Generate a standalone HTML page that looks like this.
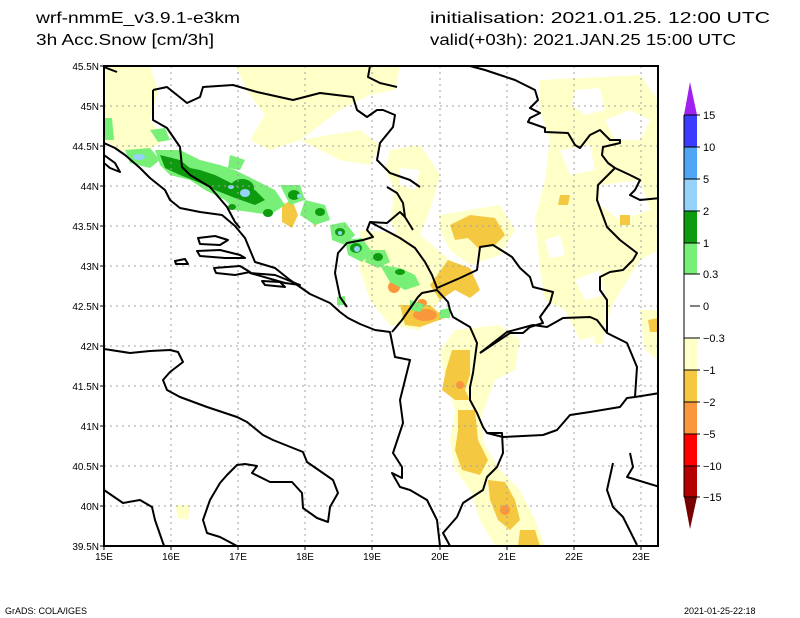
<!DOCTYPE html>
<html><head><meta charset="utf-8"><style>
html,body{margin:0;padding:0;background:#fff;}
svg{display:block;}
text{font-family:"Liberation Sans",sans-serif;fill:#000;}
</style></head><body>
<svg width="800" height="618" viewBox="0 0 800 618" xmlns="http://www.w3.org/2000/svg">
<rect width="800" height="618" fill="#fff"/>
<text x="36" y="23" font-size="16" textLength="204" lengthAdjust="spacingAndGlyphs">wrf-nmmE_v3.9.1-e3km</text>
<text x="36" y="45" font-size="16" textLength="178" lengthAdjust="spacingAndGlyphs">3h Acc.Snow [cm/3h]</text>
<text x="430" y="23" font-size="16" textLength="340" lengthAdjust="spacingAndGlyphs">initialisation: 2021.01.25.  12:00 UTC</text>
<text x="430" y="45" font-size="16" textLength="306" lengthAdjust="spacingAndGlyphs">valid(+03h): 2021.JAN.25 15:00 UTC</text>

<clipPath id="c"><rect x="104" y="66" width="554" height="480"/></clipPath>
<g clip-path="url(#c)">
<g fill="#ffffc8">
<path d="M104,66 L150,66 L158,90 L150,120 L165,140 L140,155 L120,150 L104,140Z"/>
<path d="M235,66 L400,66 L395,90 L370,95 L340,110 L320,125 L300,140 L270,150 L250,140 L265,115 L250,95Z"/>
<path d="M300,140 L360,130 L380,145 L370,165 L340,160 L320,150Z"/>
<path d="M390,150 L420,145 L440,175 L430,210 L420,235 L400,240 L390,220 L395,190 L385,170Z"/>
<path d="M440,215 L500,205 L515,230 L500,255 L470,265 L450,250 L440,230Z"/>
<path d="M360,230 L420,235 L450,260 L440,300 L420,330 L390,325 L370,300 L360,270Z"/>
<path d="M540,80 L640,75 L658,100 L658,250 L640,260 L615,300 L600,335 L580,340 L565,310 L545,300 L540,270 L535,220 L545,180 L550,140 L540,110Z"/>
<path d="M640,310 L658,310 L658,360 L645,350Z"/>
<path d="M455,330 L500,325 L520,340 L515,370 L495,380 L480,420 L485,445 L500,470 L520,490 L535,520 L545,546 L495,546 L480,520 L470,490 L455,470 L450,440 L455,410 L445,380 L440,350Z"/>
<path d="M595,330 L605,330 L602,345 L594,343Z"/>
<path d="M175,505 L190,505 L188,520 L178,518Z"/>
</g>
<!-- holes in right yellow region -->
<g fill="#fff">
<path d="M575,90 L600,88 L605,110 L585,115 L572,105Z"/>
<path d="M605,120 L630,110 L650,120 L640,140 L615,140Z"/>
<path d="M560,150 L590,145 L595,170 L570,175Z"/>
<path d="M545,240 L560,235 L565,255 L550,258Z"/>
<path d="M575,280 L600,270 L605,295 L585,300Z"/>
<path d="M600,185 L640,180 L650,210 L620,220 L600,205Z"/>
<path d="M400,168 L420,170 L415,190 L400,185Z"/>
</g>
<g fill="#f5c841">
<path d="M450,225 L470,215 L495,218 L505,235 L495,245 L478,248 L468,238 L455,240Z"/>
<path d="M448,260 L470,268 L480,290 L470,298 L455,290 L440,300 L430,285Z"/>
<path d="M400,305 L430,305 L445,318 L420,327 L405,325Z"/>
<path d="M452,350 L470,350 L470,375 L465,390 L470,400 L455,400 L442,390 L446,370Z"/>
<path d="M458,410 L475,410 L478,440 L488,460 L480,475 L462,470 L455,450 L458,430Z"/>
<path d="M488,480 L505,482 L515,500 L520,520 L510,530 L498,520 L490,500Z"/>
<path d="M520,530 L535,530 L540,546 L518,546Z"/>
<path d="M282,205 L292,200 L298,215 L292,228 L282,222Z"/>
<path d="M310,215 L318,213 L322,222 L314,226Z"/>
<path d="M560,195 L570,195 L568,205 L558,205Z"/>
<path d="M620,215 L630,215 L630,225 L620,225Z"/>
<path d="M648,320 L658,318 L658,332 L650,332Z"/>
</g>
<g fill="#fa963c">
<ellipse cx="394" cy="287" rx="6" ry="6"/>
<ellipse cx="425" cy="315" rx="12" ry="6"/>
<ellipse cx="460" cy="385" rx="4" ry="4"/>
<ellipse cx="505" cy="510" rx="5" ry="5"/>
<ellipse cx="422" cy="303" rx="5" ry="4"/>
</g>
<g fill="#78f078">
<path d="M104,118 L112,118 L114,140 L104,140Z"/>
<path d="M125,150 L150,148 L160,160 L150,168 L130,163Z"/>
<path d="M155,150 L180,150 L200,160 L220,165 L235,170 L255,180 L275,190 L285,205 L270,215 L250,212 L235,210 L225,200 L205,190 L190,180 L170,175 L160,165Z"/>
<path d="M230,155 L245,160 L240,170 L228,168Z"/>
<path d="M280,185 L300,185 L305,200 L290,205Z"/>
<path d="M305,200 L325,205 L330,220 L315,225 L300,215Z"/>
<path d="M330,225 L345,222 L355,235 L345,245 L332,240Z"/>
<path d="M345,240 L362,238 L372,252 L362,262 L348,255Z"/>
<path d="M368,250 L385,250 L390,262 L378,268 L365,262Z"/>
<path d="M380,265 L400,268 L415,275 L420,285 L405,290 L390,282Z"/>
<path d="M410,300 L425,305 L420,312 L410,310Z"/>
<path d="M337,297 L345,296 L345,305 L337,305Z"/>
<path d="M440,310 L450,308 L450,318 L440,318Z"/>
<path d="M150,130 L165,128 L170,140 L158,142Z"/>
</g>
<g fill="#0f9b0f">
<path d="M160,155 L180,160 L190,168 L200,170 L215,175 L235,185 L255,190 L265,200 L255,205 L235,198 L215,190 L200,183 L180,175 L165,168Z"/>
<ellipse cx="242" cy="188" rx="12" ry="9"/>
<ellipse cx="294" cy="195" rx="6" ry="5"/>
<ellipse cx="320" cy="212" rx="5" ry="4"/>
<ellipse cx="340" cy="232" rx="5" ry="4"/>
<ellipse cx="356" cy="248" rx="6" ry="5"/>
<ellipse cx="378" cy="257" rx="5" ry="4"/>
<ellipse cx="400" cy="272" rx="5" ry="3"/>
<ellipse cx="268" cy="213" rx="5" ry="4"/>
<ellipse cx="232" cy="207" rx="4" ry="3"/>
</g>
<g fill="#96d2fa">
<ellipse cx="139" cy="157" rx="6" ry="3"/>
<ellipse cx="245" cy="193" rx="5" ry="4"/>
<ellipse cx="231" cy="187" rx="3" ry="2"/>
<ellipse cx="299" cy="196" rx="2" ry="2"/>
<ellipse cx="357" cy="249" rx="3" ry="3"/>
<ellipse cx="340" cy="233" rx="2" ry="2"/>
</g>
</g>

<g stroke="#a0a0a0" stroke-width="1" stroke-dasharray="2,4">
<path d="M171,66V546M238,66V546M305,66V546M372,66V546M440,66V546M507,66V546M574,66V546M641,66V546"/>
<path d="M104,106H658M104,146H658M104,186H658M104,226H658M104,266H658M104,306H658M104,346H658M104,386H658M104,426H658M104,466H658M104,506H658"/>
</g>

<g clip-path="url(#c)" fill="none" stroke="#000" stroke-width="2" stroke-linejoin="round">
<path d="M104,143 L115,148 L125,155 L140,168 L150,178 L165,190 L170,200 L180,208 L200,212 L222,215 L235,226 L245,238 L255,262 L275,268 L290,280 L310,294 L330,303 L340,312 L348,318 L360,324 L375,330 L390,332 L395,357 L410,360 L405,380 L400,400 L403,423 L393,453 L402,467 L402,478 L392,473 L400,487 L410,490 L427,500 L437,520 L440,546"/>
<path d="M104,155 L115,163 L120,172 L110,168 L104,163Z"/>
<path d="M198,238 L215,236 L228,240 L220,245 L200,244Z"/>
<path d="M197,251 L220,250 L240,255 L245,258 L225,258 L200,256Z"/>
<path d="M175,261 L185,259 L188,264 L176,264Z"/>
<path d="M214,268 L240,266 L250,272 L235,275 L216,273Z"/>
<path d="M262,281 L280,282 L285,287 L265,285Z"/>
<path d="M250,273 L275,275 L300,285 L285,283Z"/>
<path d="M104,349 L130,353 L150,351 L170,350 L178,352 L183,362 L170,372 L163,380 L167,390 L180,397 L207,407 L237,417 L247,422 L263,435 L273,440 L303,452 L307,462 L333,480 L338,493 L330,507 L328,522 L317,518 L303,508 L302,493 L292,482 L270,482 L252,473 L257,466 L245,464 L237,465 L227,475 L220,483 L210,500 L203,520 L207,533 L220,537 L237,546"/>
<path d="M104,490 L123,503 L140,500 L152,507 L155,520 L163,543 L165,548"/>
<path d="M104,67 L117,72"/>
<path d="M153,90 L167,87 L187,103 L200,97 L203,87 L233,85 L257,92 L293,100 L320,93 L353,97 L357,110 L367,117 L377,110 L383,110 L395,115 L393,127 L380,143 L377,160 L390,173 L410,180 L420,187"/>
<path d="M370,66 L368,77 L380,83 L397,87"/>
<path d="M153,90 L153,120 L167,128 L180,147 L182,167 L190,175 L210,187 L227,207 L235,222 L240,228"/>
<path d="M387,187 L397,193 L403,203 L405,217 L400,212 L387,223 L370,222 L367,230 L373,237 L363,240 L347,243 L338,253 L335,273 L340,297 L347,307"/>
<path d="M413,230 L405,217"/>
<path d="M370,222 L385,230 L400,238 L415,248 L425,262 L432,275 L437,288 L460,278 L477,270 L480,247 L493,245 L512,257 L520,268 L530,277 L533,287 L553,292 L550,303 L540,317 L543,323 L530,327 L523,333 L510,333 L480,353"/>
<path d="M392,332 L402,320 L418,297 L422,293 L437,290 L448,302 L450,310 L453,317 L470,327 L477,343 L473,373 L470,387 L470,400 L477,413 L483,427 L487,433 L502,433 L503,453 L497,467 L487,477 L483,490 L463,503 L457,517 L443,533 L450,546"/>
<path d="M480,353 L507,332 L533,325 L547,327 L563,318 L590,317 L597,320 L607,333 L627,343 L637,367 L635,397 L627,398 L620,407 L590,412 L570,415 L557,430 L543,435 L503,437 L487,433"/>
<path d="M635,397 L660,393"/>
<path d="M607,333 L607,300 L600,290 L600,277 L610,272 L623,270 L633,260 L637,253 L620,240 L607,227 L597,200 L598,185 L615,168"/>
<path d="M500,75 L515,80 L535,90 L538,100 L530,108 L540,113 L530,118 L528,122 L545,128 L545,132 L568,133 L575,145 L580,148 L590,135 L600,130 L610,140 L620,140 L620,143 L603,147 L602,155 L608,163 L615,168 L630,175 L640,180 L635,190 L630,195 L640,200 L660,198"/>
<path d="M470,66 L485,70 L500,75"/>
<path d="M630,453 L633,467 L627,477 L660,487"/>
<path d="M613,463 L607,490 L613,507 L623,517 L637,545"/>
</g>

<rect x="104" y="66" width="554" height="480" fill="none" stroke="#000" stroke-width="2"/>
<g stroke="#000" stroke-width="1">
<path d="M100,66H104M100,106H104M100,146H104M100,186H104M100,226H104M100,266H104M100,306H104M100,346H104M100,386H104M100,426H104M100,466H104M100,506H104M100,546H104"/>
<path d="M104,546V550M171,546V550M238,546V550M305,546V550M372,546V550M440,546V550M507,546V550M574,546V550M641,546V550"/>
</g>
<g font-size="10" text-anchor="end">
<text x="99" y="70">45.5N</text><text x="99" y="110">45N</text><text x="99" y="150">44.5N</text>
<text x="99" y="190">44N</text><text x="99" y="230">43.5N</text><text x="99" y="270">43N</text>
<text x="99" y="310">42.5N</text><text x="99" y="350">42N</text><text x="99" y="390">41.5N</text>
<text x="99" y="430">41N</text><text x="99" y="470">40.5N</text><text x="99" y="510">40N</text>
<text x="99" y="550">39.5N</text>
</g>
<g font-size="10" text-anchor="middle">
<text x="104" y="560">15E</text><text x="171" y="560">16E</text><text x="238" y="560">17E</text>
<text x="305" y="560">18E</text><text x="372" y="560">19E</text><text x="440" y="560">20E</text>
<text x="507" y="560">21E</text><text x="574" y="560">22E</text><text x="641" y="560">23E</text>
</g>

<polygon points="690,82 684,115 697,115" fill="#a020f0"/>
<rect x="684" y="115" width="13" height="32" fill="#3c3cff"/>
<rect x="684" y="147" width="13" height="32" fill="#50a5f5"/>
<rect x="684" y="179" width="13" height="32" fill="#96d2fa"/>
<rect x="684" y="211" width="13" height="32" fill="#0f9b0f"/>
<rect x="684" y="243" width="13" height="31" fill="#78f078"/>
<rect x="684" y="274" width="13" height="64" fill="#fff"/>
<rect x="684" y="338" width="13" height="32" fill="#ffffc8"/>
<rect x="684" y="370" width="13" height="32" fill="#f5c841"/>
<rect x="684" y="402" width="13" height="32" fill="#fa963c"/>
<rect x="684" y="434" width="13" height="32" fill="#ff0000"/>
<rect x="684" y="466" width="13" height="31" fill="#b40000"/>
<polygon points="684,497 697,497 690,529" fill="#780000"/>
<g stroke="#000" stroke-width="1">
<path d="M684,115H700M684,147H700M684,179H700M684,211H700M684,243H700M684,274H700M690,306H700M684,338H700M684,370H700M684,402H700M684,434H700M684,466H700M684,497H700"/>
<path d="M684,115V497"/>
</g>
<g font-size="11">
<text x="703" y="119">15</text><text x="703" y="151">10</text><text x="703" y="183">5</text>
<text x="703" y="215">2</text><text x="703" y="247">1</text><text x="703" y="278">0.3</text>
<text x="703" y="310">0</text><text x="703" y="342">−0.3</text><text x="703" y="374">−1</text>
<text x="703" y="406">−2</text><text x="703" y="438">−5</text><text x="703" y="470">−10</text>
<text x="703" y="501">−15</text>
</g>

<text x="5" y="614" font-size="9">GrADS: COLA/IGES</text>
<text x="684" y="614" font-size="9">2021-01-25-22:18</text>
</svg>
</body></html>
